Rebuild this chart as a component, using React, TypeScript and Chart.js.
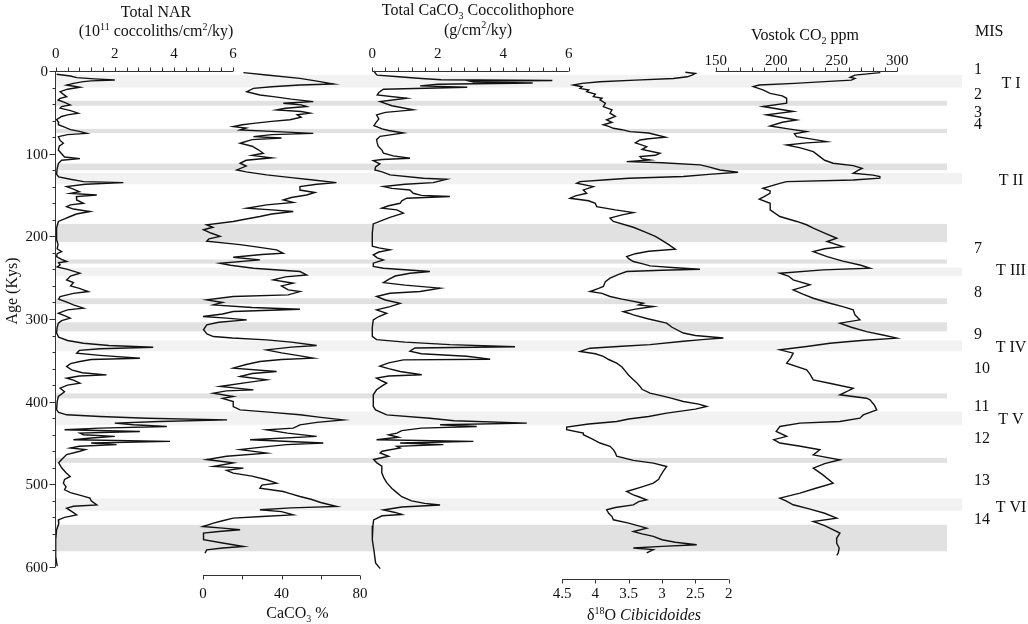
import { useEffect, useRef } from 'react';
import { Chart, registerables } from 'chart.js';

Chart.register(...registerables);

// every series is a list of [age (ky), value]
const narSeries = [
  [4, 0.03], [6, 0.5], [8, 0.71], [9.5, 1.3], [10.9, 2.0], [12, 1.2], [12.9, 0.94], [15, 0.6], [17, 0.37], [19.7, 0.82],
  [22, 0.4], [25, 0.15], [28, 0.25], [31, 0.37], [33, 0.15], [35, 0.08], [38, 0.3], [41, 0.49], [43, 0.2], [45, 0.15],
  [48, 0.5], [51, 0.76], [53, 0.4], [55, 0.2], [59, 0.03], [62, 0.1], [65, 0.09], [68, 0.3], [71, 0.5], [73, 0.8],
  [75.4, 1.05], [77, 0.4], [79.4, 0.09], [84, 0.15], [87.4, 0.26], [91, 0.12], [95.5, 0.09], [100, 0.2], [104, 0.3], [106, 0.82],
  [108, 0.2], [112, 0.09], [118, 0.05], [125, 0.03], [128, 0.1], [131, 0.5], [133.8, 0.94], [135, 2.29], [137, 1.0], [139.8, 0.37],
  [143, 0.6], [146, 0.8], [148, 0.5], [150, 1.39], [152, 0.7], [156, 0.71], [160, 0.94], [162, 0.5], [164, 0.37], [167, 0.6],
  [170, 1.16], [173, 0.7], [176, 0.49], [179, 0.3], [182, 0.09], [190, 0.03], [204, 0.03], [210, 0.08], [215, 0.05], [218.4, 0.2],
  [221, 0.05], [224.5, 0.03], [228, 0.2], [230.5, 0.37], [232, 0.1], [234.6, 0.15], [237, 0.05], [240, 0.4], [244.6, 0.82], [248, 0.5],
  [252.7, 0.37], [256, 0.6], [260, 0.5], [263, 0.8], [266.8, 1.1], [269, 0.6], [272.8, 0.15], [276, 0.1], [280, 0.4], [283, 0.6],
  [286.9, 0.94], [289, 0.4], [293, 0.09], [296, 0.3], [299, 0.49], [302, 0.2], [305, 0.09], [310, 0.05], [317, 0.03], [322, 0.1],
  [326, 0.4], [329.3, 0.94], [332, 1.8], [334.1, 3.3], [336, 1.5], [338, 0.8], [341.4, 0.71], [344, 1.5], [347.4, 2.85], [349, 1.2],
  [351.4, 0.82], [354, 0.5], [357.5, 0.37], [361.5, 0.54], [365, 0.9], [367.6, 1.72], [369, 0.8], [371.6, 0.37], [374, 0.6], [377.6, 0.82],
  [380, 0.4], [383.7, 0.15], [388, 0.3], [393.7, 0.09], [400, 0.05], [409.9, 0.03], [413, 0.1], [415.9, 0.37], [418, 1.5], [420, 3.08],
  [422, 5.8], [424, 3.5], [426, 2.0], [428, 2.63], [430, 3.76], [432, 1.5], [434, 0.3], [436, 2.85], [438, 0.82], [440, 0.94],
  [442, 2.0], [444, 1.2], [446, 0.6], [448, 3.87], [450, 1.2], [452, 2.06], [454, 0.8], [456, 0.5], [458, 1.0], [460, 0.82],
  [464, 0.37], [470, 0.2], [474, 0.1], [480, 0.2], [486, 0.35], [490.5, 0.49], [494, 0.3], [498.6, 0.26], [503, 0.35], [506.6, 0.3],
  [510, 0.5], [514, 0.9], [516.7, 1.16], [520, 1.2], [524.8, 1.39], [526.5, 0.6], [528.8, 0.37], [533, 0.55], [536.9, 0.71], [540, 0.3],
  [543, 0.09], [548, 0.1], [555, 0.03], [567, 0.0], [587, 0.0], [599, 0.05],
];

const caco3Series = [
  [2, 20.6], [4.8, 32.4], [8.9, 49.4], [12.9, 59.6], [15.7, 66.4], [16.9, 49.4], [19, 35], [21, 25.7], [25, 22.3], [29, 29],
  [31, 35.8], [34, 45], [37, 56.2], [39, 40.9], [41, 50], [43, 52.8], [45, 42], [47, 37.5], [49, 50], [51, 54.5],
  [53, 48], [56, 50], [59, 44.3], [61, 35], [63.3, 25.7], [65, 20], [67.3, 15.4], [69, 22], [71.3, 18.9], [73, 35],
  [75.4, 56.2], [77, 35], [79.4, 25.7], [81, 40], [83, 25], [87.4, 18.9], [91, 25], [95, 28], [99.5, 30.7], [102, 25],
  [105, 35], [108, 22], [111.6, 18.9], [115, 22], [119.7, 17.2], [122, 22], [125.7, 32.4], [129, 45], [131.8, 56.2], [135, 68],
  [137, 58], [139.8, 49.4], [144, 49.4], [147, 57], [150, 52.8], [153, 45], [156, 40.9], [159, 46], [162, 32.4], [166, 22.3],
  [168, 35], [170, 46], [173, 35], [176, 29], [179, 22], [182, 15.4], [186, 1.9], [189, 5], [192, 0.25], [196, 4],
  [200, 8.7], [203, 3], [206, 1.9], [210, 18.9], [213, 28], [216.4, 37.5], [220.5, 40.9], [222, 30], [225.3, 15.4], [228.5, 29],
  [232.6, 8.7], [235, 14], [238.6, 25.7], [242.6, 49.4], [246.7, 52.8], [249, 42], [252.7, 35.8], [256.7, 46], [260, 40], [264.8, 43.4],
  [266.8, 49.4], [270.8, 43.4], [272.8, 15.4], [276.9, 1.9], [280, 10], [283, 5.3], [286, 25], [288.2, 49.4], [291, 15.4], [294, 10],
  [297, 0], [299, 12], [301, 22.3], [304, 8], [307, 1.9], [313, 0.25], [318, 2], [321.2, 5.3], [323, 15], [325.2, 32.4],
  [328, 45], [332, 57.9], [334, 45], [337.3, 32.4], [341, 40], [344, 48], [347.4, 56.2], [349, 40], [351.4, 29], [355, 22],
  [359.5, 15.4], [363.5, 37.5], [366, 25], [369.6, 18.9], [373.6, 32.4], [377, 22], [381.6, 8.7], [385.7, 25.7], [387, 12], [389.7, 5.3],
  [393.7, 15.4], [396, 10], [399.8, 15.4], [405.9, 15.4], [409.9, 18.9], [413, 35], [415.9, 49.4], [419, 60], [422, 71.5], [425, 58],
  [428, 49.4], [432, 46], [434, 32.4], [438, 43], [442, 57.9], [446, 24], [450, 61.3], [452, 42.6], [455, 30], [458, 18.9],
  [462.3, 32.4], [466, 12], [470, 1.9], [474, 15.4], [478.4, 5.3], [480.4, 20.6], [483, 12], [486.5, 15.4], [490, 25], [494.5, 32.4],
  [498.6, 37.5], [501, 30], [504.6, 29], [508.7, 40.9], [511, 44], [514.7, 49.4], [518, 55], [522, 60], [526.8, 68.1], [528.5, 45],
  [530.8, 29], [533, 40], [536.9, 46], [539, 30], [540.9, 15.4], [544, 10], [547, 5.3], [551, 0], [553, 10], [555, 18.9],
  [557, 8], [559, 0.25], [563, 0.3], [567, 0.25], [571, 10], [575.2, 20.6], [577, 10], [579.2, 1.9], [583.2, 1],
];

const coccoSeries = [
  [0, 0.05], [3, 0.1], [5, 0.15], [7, 0.8], [9, 1.5], [10.5, 2.1], [11.5, 5.5], [12.5, 3.0], [13.5, 3.1], [14.5, 4.9],
  [16, 2.0], [18, 1.46], [19.7, 2.9], [22, 0.34], [26, 0.2], [29, 0.15], [33, 1.05], [37, 0.24], [42, 0.6], [47, 1.25],
  [50, 0.4], [53, 0.13], [58, 0.2], [63, 0.1], [66, 0.05], [70, 0.3], [72, 0.5], [75, 0.95], [77, 0.6], [79, 0.24],
  [83, 0.13], [87, 0.15], [91, 0.18], [96, 0.3], [99.5, 0.34], [102.7, 0.64], [105.6, 1.15], [107, 0.3], [108.4, 0.03], [112.4, 0.23],
  [116, 0.1], [119.7, 0.08], [122, 0.3], [125.7, 0.54], [129.7, 1.56], [131, 2.27], [135, 1.86], [137, 1.0], [139.8, 0.34], [142, 0.6],
  [143.9, 1.15], [147.9, 1.25], [150.5, 1.5], [151.9, 2.37], [153.9, 1.05], [157, 0.9], [160, 0.85], [163, 0.5], [166, 0.29], [168, 0.75],
  [172, 0.95], [177, 0.54], [180, 0.34], [185, 0.03], [196, 0.0], [212, 0.0], [214, 0.2], [216.4, 0.54], [219, 0.2], [222.4, 0.03],
  [226, 0.15], [228.5, 0.34], [232.5, 0.03], [236.5, 0.03], [238.6, 0.34], [240.5, 1.0], [242.6, 1.76], [244.6, 1.15], [248, 0.7], [252, 0.5],
  [256, 0.34], [259, 1.0], [262.7, 2.07], [266.8, 1.46], [268.8, 0.54], [272.8, 0.13], [277, 0.4], [281, 0.85], [285, 0.54], [289, 0.13],
  [293, 0.44], [297, 0.2], [301, 0.03], [310, 0.0], [321, 0.0], [325, 0.13], [328, 1.0], [331, 2.37], [333.5, 4.36], [335, 1.3],
  [339, 1.15], [342, 1.5], [345, 2.88], [348.6, 3.6], [349.5, 0.95], [353, 0.5], [357, 0.23], [360, 0.5], [363.5, 0.85], [367.5, 1.51],
  [369, 0.5], [371.5, 0.13], [375, 0.3], [377.6, 0.44], [381, 0.3], [385.6, 0.13], [391.7, 0.03], [405.8, 0.03], [410, 0.1], [416, 0.44],
  [420, 1.76], [423, 2.5], [426, 4.72], [428, 2.07], [430, 3.19], [432, 1.5], [435, 0.9], [438, 0.75], [440, 0.5], [443, 0.8],
  [446, 0.13], [448, 3.09], [450, 0.85], [452, 2.17], [454, 0.75], [456, 0.85], [460, 0.3], [462, 0.24], [466, 0.5], [470, 0.04],
  [474, 0.14], [478, 0.29], [486, 0.29], [492, 0.35], [498, 0.44], [505, 0.6], [510, 0.75], [515, 0.9], [520, 1.2], [523, 1.6],
  [525, 2.07], [527.5, 0.9], [531, 0.34], [534, 0.7], [536.5, 0.9], [538, 0.3], [543, 0.04], [550, 0.02], [567, 0.0], [580, 0.05],
  [595, 0.1], [602, 0.24],
];

const d18oSeries = [
  [1.5, 2.65], [3, 2.5], [5, 2.55], [7, 2.62], [9, 2.83], [11, 3.4], [13, 3.93], [15, 4.2], [17, 4.33], [19, 4.2],
  [21, 4.23], [23, 4.1], [25, 4.13], [28, 4.0], [31, 4.03], [33, 3.9], [35, 3.93], [39, 3.85], [43, 3.88], [47, 3.75],
  [51, 3.78], [55, 3.7], [59, 3.83], [62, 3.75], [65, 3.88], [67, 3.8], [69.3, 3.73], [71, 3.6], [73.3, 3.48], [75, 3.2],
  [77.4, 3.08], [80, 2.95], [82, 3.2], [83.4, 3.33], [87, 3.4], [91.5, 3.23], [95, 3.3], [99.5, 3.03], [102, 3.1], [103.6, 3.33],
  [106, 3.3], [107.6, 3.18], [109.6, 3.53], [111, 3.0], [113.6, 2.43], [116, 2.3], [119.7, 2.13], [122.5, 1.86], [125, 2.3], [127.7, 2.68],
  [129.7, 3.5], [131.8, 3.88], [133.8, 4.23], [135.8, 4.28], [139.8, 4.03], [143.9, 4.18], [147.9, 4.13], [151, 4.3], [154, 4.38], [157, 4.1],
  [160, 4.0], [164, 3.98], [168, 3.7], [171.3, 3.43], [174, 3.6], [178, 3.78], [182, 3.73], [189, 3.43], [195, 3.25], [200, 3.1],
  [205, 3.0], [210, 2.9], [215.6, 2.8], [218, 3.2], [221, 3.4], [224.4, 3.53], [227, 3.5], [230.5, 3.43], [233, 3.3], [235.7, 3.18],
  [238, 2.8], [239.8, 2.43], [241, 3.0], [242.6, 3.53], [246, 3.65], [250.6, 3.78], [255, 3.85], [260.7, 3.88], [263, 3.95], [266.8, 4.08],
  [269, 3.9], [272.8, 3.78], [276, 3.6], [280.9, 3.28], [283, 3.35], [284.9, 3.13], [288, 3.4], [291, 3.58], [293, 3.5], [295, 3.43],
  [300, 3.2], [305, 2.93], [310, 2.85], [317, 2.68], [320, 2.5], [323, 2.08], [325, 2.4], [327, 2.68], [331, 3.18], [333, 3.6],
  [335.3, 4.08], [337, 4.15], [339.3, 4.23], [342, 4.0], [345.3, 3.88], [349, 3.8], [353.4, 3.68], [358, 3.6], [363, 3.55], [368, 3.5],
  [373.6, 3.43], [377, 3.38], [381.6, 3.33], [385, 3.3], [389.7, 3.18], [393, 3.0], [396, 2.85], [399.8, 2.68], [403, 2.45], [405.8, 2.33],
  [409, 2.5], [413.9, 2.93], [418, 3.2], [421, 3.5], [424, 3.68], [427, 4.1], [430.8, 4.43], [434, 4.43], [438, 4.18], [440, 4.18],
  [445, 4.05], [450, 3.93], [454, 3.78], [458, 3.73], [462, 3.7], [466, 3.68], [471, 3.43], [474.4, 3.13], [478.4, 2.93], [484, 2.98],
  [490.5, 3.03], [494, 3.05], [498.6, 3.13], [503, 3.3], [508.7, 3.53], [512.7, 3.43], [515, 3.35], [518.7, 3.23], [521, 3.35], [524.8, 3.43],
  [528, 3.7], [530.8, 3.83], [535, 3.8], [539, 3.75], [542.9, 3.73], [547, 3.5], [553, 3.23], [557, 3.43], [560, 3.3], [563, 3.13],
  [567, 3.0], [570, 2.8], [573, 2.48], [575, 3.0], [577, 3.43], [579, 3.13], [583, 3.23],
];

const co2Series = [
  [2, 286], [5, 265], [7.6, 261], [9, 265], [11, 262], [12.9, 240], [15, 215], [16.9, 186], [18.9, 181], [22.9, 189],
  [27, 195], [30, 205], [33, 208.6], [39, 208.6], [43, 189], [49, 214], [53, 192], [59.2, 216.8], [62, 205], [66.5, 194.8],
  [70, 210], [73.3, 225], [76, 215], [79.4, 216.8], [83, 232], [85.4, 241.6], [87, 225], [89.5, 208.6], [93, 220], [97.5, 230.6],
  [103.6, 236], [108, 240], [111.6, 247], [114.4, 263.6], [117.7, 271], [120, 268], [123.7, 263.6], [126, 280], [127.8, 285.6], [129.7, 285.6],
  [131.8, 263.6], [133.8, 208.6], [136, 203], [141.8, 189], [145, 195], [147.9, 194.8], [152, 190], [155.1, 186], [160, 195], [168, 195],
  [176, 203], [182, 217], [186, 225], [190, 230.6], [196, 240], [202.3, 250], [206.3, 242], [212.4, 255], [215, 240], [218.4, 230.6],
  [224.5, 242], [230, 255], [235, 270], [238.6, 277.4], [240.6, 238.9], [244.6, 203], [248, 210], [252.7, 214], [258.7, 227.9], [264.8, 214],
  [270, 222], [274.9, 230.6], [280.9, 244.4], [285, 255], [289, 263.6], [295, 265], [301, 269.1], [305, 252.6], [310, 262], [315.2, 274.6],
  [320, 290], [323.2, 299.4], [326, 270], [329.3, 244.4], [333.3, 225.1], [337.3, 203], [341.3, 214], [347, 212], [353.4, 208.6], [361.5, 225.1],
  [367, 228], [373.6, 230.6], [378, 245], [383.7, 263.6], [388, 258], [391.7, 252.6], [395.8, 274.6], [397.8, 277.4], [404, 281], [409.9, 283],
  [416, 271.9], [420, 269.1], [424, 252.6], [426, 219.6], [430, 203], [436, 200], [442, 208.6], [446, 198], [450, 203], [454, 220],
  [458.2, 236], [464.3, 230.6], [470.3, 252.6], [475, 240], [480.4, 230.6], [488, 238], [498.5, 247], [505, 232], [510.6, 219.6], [516.7, 203],
  [520, 208], [524.7, 214], [530, 228], [535, 240], [540.9, 249.9], [544.9, 230.6], [550, 240], [559, 252.6], [565, 250], [571, 249.9],
  [577, 252], [583.2, 251.2], [586, 250],
];

// shaded intervals, [from, to] in ky
const terminationBands = [[5, 20], [123, 137], [238, 248], [326, 339], [412, 428], [517, 532]];
const stageBands = [[36, 42], [70, 75], [112, 120], [185, 207], [228, 233], [275, 282], [304, 315], [390, 396], [468, 474], [549, 581]];

const misNames = ['1', '2', '3', '4', '7', '8', '9', '10', '11', '12', '13', '14'];
const misAges = [-2.4, 28, 49, 64, 214, 267, 318, 359.5, 405, 444, 494, 541];
const termNames = ['T I', 'T II', 'T III', 'T IV', 'T V', 'T VI'];
const termAges = [14, 132, 240.5, 333.5, 421, 527];

const ageTicks = [0, 100, 200, 300, 400, 500, 600];
const narTicks = [0, 2, 4, 6];
const coccoTicks = [0, 2, 4, 6];
const co2Ticks = [150, 200, 250, 300];
const caco3Ticks = [0, 40, 80];
const d18oTicks = [4.5, 4, 3.5, 3, 2.5, 2];

const W = 1028;
const H = 624;
const AREA = { left: 55, right: 963, top: 71, bottom: 567 };
const SERIF = '"Liberation Serif", "DejaVu Serif", serif';
const INK = '#111';

// pick min/max so that value v0 lands on pixel p0 and v1 on p1
const fitAxis = (v0: number, p0: number, v1: number, p1: number) => {
  const k = (p1 - p0) / (v1 - v0);
  const a = v0 + (AREA.left - p0) / k;
  const b = v0 + (AREA.right - p0) / k;
  return a < b ? { min: a, max: b, reverse: false } : { min: b, max: a, reverse: true };
};

const xAxes = [
  { id: 'xNar', from: 0, to: 6, step: 0.4, labels: narTicks, lineY: 71.5, labelY: 53, dir: -1, fit: fitAxis(0, 55.7, 6, 233) },
  { id: 'xCocco', from: 0, to: 6, step: 0.4, labels: coccoTicks, lineY: 71.5, labelY: 53, dir: -1, fit: fitAxis(0, 372.3, 6, 568.7) },
  { id: 'xCo2', from: 150, to: 300, step: 10, labels: co2Ticks, lineY: 71.5, labelY: 60, dir: -1, fit: fitAxis(150, 715.7, 300, 897.3) },
  { id: 'xCaco3', from: 0, to: 80, step: 20, labels: caco3Ticks, lineY: 575.5, labelY: 593, dir: 1, fit: fitAxis(0, 203, 80, 360) },
  { id: 'xD18o', from: 4.5, to: 2, step: -0.5, labels: d18oTicks, lineY: 579.5, labelY: 593, dir: 1, fit: fitAxis(4.5, 562, 2, 728.7) },
];

type Part = [string, string];

const drawText = (ctx: CanvasRenderingContext2D, s: string, x: number, cy: number, size: number, align: CanvasTextAlign) => {
  ctx.font = `${size}px ${SERIF}`;
  ctx.textAlign = align;
  ctx.textBaseline = 'alphabetic';
  ctx.fillText(s, x, cy + size * 0.33);
};

const drawRich = (ctx: CanvasRenderingContext2D, parts: Part[], cx: number, cy: number, size: number) => {
  const small = Math.round(size * 0.62);
  const fontOf = (k: string) =>
    k === 'sup' || k === 'sub' ? `${small}px ${SERIF}` : k === 'i' ? `italic ${size}px ${SERIF}` : `${size}px ${SERIF}`;
  let total = 0;
  parts.forEach(([t, k]) => {
    ctx.font = fontOf(k);
    total += ctx.measureText(t).width;
  });
  let x = cx - total / 2;
  const base = cy + size * 0.33;
  ctx.textAlign = 'left';
  ctx.textBaseline = 'alphabetic';
  parts.forEach(([t, k]) => {
    ctx.font = fontOf(k);
    const dy = k === 'sup' ? -size * 0.4 : k === 'sub' ? size * 0.22 : 0;
    ctx.fillText(t, x, base + dy);
    x += ctx.measureText(t).width;
  });
};

const coreAxes = {
  id: 'coreAxes',
  beforeDatasetsDraw(chart: Chart) {
    const ctx = chart.ctx;
    const y = chart.scales.y;
    const left = chart.chartArea.left;
    ctx.save();
    ctx.fillStyle = '#f2f2f2';
    terminationBands.forEach(([a, b]) => {
      const y1 = y.getPixelForValue(a);
      const y2 = y.getPixelForValue(b);
      ctx.fillRect(left, y1, chart.chartArea.right - 1 - left, y2 - y1);
    });
    ctx.fillStyle = '#e1e1e1';
    stageBands.forEach(([a, b]) => {
      const y1 = y.getPixelForValue(a);
      const y2 = y.getPixelForValue(b);
      ctx.fillRect(left, y1, chart.chartArea.right - 16 - left, y2 - y1);
    });
    ctx.restore();
  },
  afterDatasetsDraw(chart: Chart) {
    const ctx = chart.ctx;
    const y = chart.scales.y;
    const ax = chart.chartArea.left + 0.5;
    ctx.save();
    ctx.strokeStyle = '#333';
    ctx.fillStyle = INK;
    ctx.lineWidth = 1;

    // age axis
    ctx.beginPath();
    ctx.moveTo(ax, y.getPixelForValue(0));
    ctx.lineTo(ax, y.getPixelForValue(600));
    for (let a = 0; a <= 600; a += 20) {
      const py = Math.round(y.getPixelForValue(a)) + 0.5;
      ctx.moveTo(ax - (a % 100 === 0 ? 6 : 3), py);
      ctx.lineTo(ax, py);
    }
    ctx.stroke();
    ageTicks.forEach((a) => drawText(ctx, String(a), 48, y.getPixelForValue(a), 15, 'right'));
    ctx.save();
    ctx.translate(12, 291);
    ctx.rotate(-Math.PI / 2);
    drawText(ctx, 'Age (Kys)', 0, 0, 16, 'center');
    ctx.restore();

    // value axes
    xAxes.forEach((spec) => {
      const sc = chart.scales[spec.id];
      const n = Math.round((spec.to - spec.from) / spec.step);
      ctx.beginPath();
      ctx.moveTo(sc.getPixelForValue(spec.from), spec.lineY);
      ctx.lineTo(sc.getPixelForValue(spec.to), spec.lineY);
      for (let i = 0; i <= n; i++) {
        const px = Math.round(sc.getPixelForValue(spec.from + i * spec.step)) + 0.5;
        ctx.moveTo(px, spec.lineY);
        ctx.lineTo(px, spec.lineY + spec.dir * 4);
      }
      ctx.stroke();
      spec.labels.forEach((v) => drawText(ctx, String(v), sc.getPixelForValue(v), spec.labelY, 15, 'center'));
    });

    drawText(ctx, 'Total NAR', 156, 12, 16, 'center');
    drawRich(ctx, [['(10', 'n'], ['11', 'sup'], [' coccoliths/cm', 'n'], ['2', 'sup'], ['/ky)', 'n']], 156, 31, 16);
    drawRich(ctx, [['Total CaCO', 'n'], ['3', 'sub'], [' Coccolithophore', 'n']], 478, 10, 16);
    drawRich(ctx, [['(g/cm', 'n'], ['2', 'sup'], ['/ky)', 'n']], 478, 29.5, 16);
    drawRich(ctx, [['Vostok CO', 'n'], ['2', 'sub'], [' ppm', 'n']], 805, 35, 16);
    drawRich(ctx, [['CaCO', 'n'], ['3', 'sub'], [' %', 'n']], 297.5, 613, 16);
    drawRich(ctx, [['\u03b4', 'n'], ['18', 'sup'], ['O ', 'n'], ['Cibicidoides', 'i']], 644, 615, 16);

    // marine isotope stages and terminations
    drawText(ctx, 'MIS', 975, 31, 16, 'left');
    misNames.forEach((s, i) => drawText(ctx, s, 974, y.getPixelForValue(misAges[i]), 16, 'left'));
    termNames.forEach((s, i) => drawText(ctx, s, 1011, y.getPixelForValue(termAges[i]), 16, 'center'));
    ctx.restore();
  },
};

const toPoints = (series: number[][]) => series.map(([age, v]) => ({ x: v, y: age }));

const line = { borderColor: INK, borderWidth: 1.4, pointRadius: 0, tension: 0, fill: false, clip: false as const, yAxisID: 'y' };

const App = () => {
  const canvasRef = useRef<HTMLCanvasElement | null>(null);

  useEffect(() => {
    const ctx = canvasRef.current?.getContext('2d');
    if (!ctx) return;
    const scales: any = {
      y: { type: 'linear', display: false, min: 0, max: 600, reverse: true },
    };
    xAxes.forEach((spec) => {
      scales[spec.id] = { type: 'linear', display: false, ...spec.fit };
    });
    const chart = new Chart(ctx, {
      type: 'line',
      data: {
        datasets: [
          { ...line, label: 'Total NAR', data: toPoints(narSeries), xAxisID: 'xNar' },
          { ...line, label: 'CaCO3 %', data: toPoints(caco3Series), xAxisID: 'xCaco3' },
          { ...line, label: 'Total CaCO3 Coccolithophore', data: toPoints(coccoSeries), xAxisID: 'xCocco' },
          { ...line, label: 'd18O Cibicidoides', data: toPoints(d18oSeries), xAxisID: 'xD18o' },
          { ...line, label: 'Vostok CO2', data: toPoints(co2Series), xAxisID: 'xCo2' },
        ],
      },
      options: {
        animation: false,
        responsive: true,
        maintainAspectRatio: false,
        events: [],
        layout: { padding: { left: AREA.left, top: AREA.top, right: W - AREA.right, bottom: H - AREA.bottom } },
        plugins: { legend: { display: false }, tooltip: { enabled: false } },
        scales,
      },
      plugins: [coreAxes],
    } as any);
    return () => chart.destroy();
  }, []);

  return (
    <div style={{ position: 'fixed', left: 0, top: 0, width: W, height: H, background: '#fff' }}>
      <canvas ref={canvasRef} />
    </div>
  );
};

export default App;
